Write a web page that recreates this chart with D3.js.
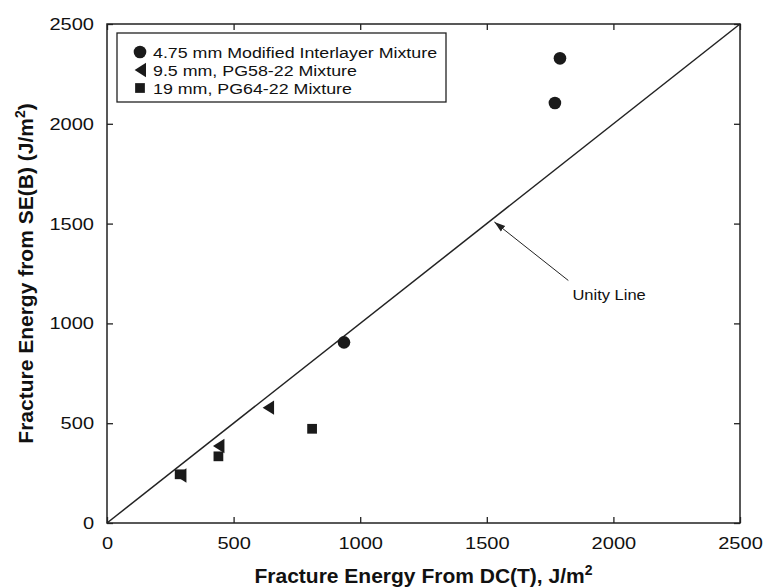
<!DOCTYPE html>
<html>
<head>
<meta charset="utf-8">
<script src="https://cdn.jsdelivr.net/npm/d3@7"></script>
<style>
body { margin: 0; background: #fff; }
text { font-family: "Liberation Sans", Arial, sans-serif; fill: #111; }
</style>
</head>
<body>
<div id="chart"></div>
<script>
var w = 764, h = 587;
var margin = {top: 24, right: 24, bottom: 64, left: 107},
    width = w - margin.left - margin.right,
    height = h - margin.top - margin.bottom;
var stretch = 1.18; // tick and legend text is a bit wider in the picture

// data
var seriesNames = ["4.75 mm Modified Interlayer Mixture", "9.5 mm, PG58-22 Mixture", "19 mm, PG64-22 Mixture"];
var circleX = [936, 1769, 1789];
var circleY = [905, 2104, 2328];
var triX = [290, 440, 636];
var triY = [238, 386, 578];
var sqX = [287, 440, 810];
var sqY = [244, 334, 472];
var ticks = [0, 500, 1000, 1500, 2000, 2500];
var unity = [0, 2500];

var svg = d3.select("#chart").append("svg")
    .attr("width", w).attr("height", h)
    .append("g")
    .attr("transform", "translate(" + margin.left + "," + margin.top + ")");

var x = d3.scaleLinear().domain([0, 2500]).range([0, width]);
var y = d3.scaleLinear().domain([0, 2500]).range([height, 0]);

// axes with inward ticks
function styleAxis(g) {
    g.select(".domain").remove();
    g.selectAll(".tick line").attr("stroke", "#222").attr("stroke-width", 1.3);
    g.selectAll(".tick text").style("font-size", "17px").attr("fill", "#111");
}
svg.append("g").attr("transform", "translate(0," + height + ")")
    .call(d3.axisBottom(x).tickValues(ticks).tickFormat(d3.format("d")).tickSizeInner(-6).tickSizeOuter(0).tickPadding(14))
    .call(styleAxis)
    .selectAll(".tick text").attr("transform", "scale(" + stretch + ",1)");
svg.append("g")
    .call(d3.axisLeft(y).tickValues(ticks).tickFormat(d3.format("d")).tickSizeInner(-6).tickSizeOuter(0).tickPadding(11))
    .call(styleAxis)
    .selectAll(".tick text").attr("transform", "scale(" + stretch + ",1)");
svg.append("g")
    .call(d3.axisTop(x).tickValues(ticks).tickSizeInner(-6).tickSizeOuter(0).tickFormat(""))
    .call(styleAxis);
svg.append("g").attr("transform", "translate(" + width + ",0)")
    .call(d3.axisRight(y).tickValues(ticks).tickSizeInner(-6).tickSizeOuter(0).tickFormat(""))
    .call(styleAxis);

svg.append("rect")
    .attr("width", width).attr("height", height)
    .attr("fill", "none").attr("stroke", "#222").attr("stroke-width", 1.5);

// unity line
svg.append("line")
    .attr("x1", x(unity[0])).attr("y1", y(unity[0]))
    .attr("x2", x(unity[1])).attr("y2", y(unity[1]))
    .attr("stroke", "#222").attr("stroke-width", 1.5);

// annotation arrow
svg.append("defs").append("marker")
    .attr("id", "arr").attr("viewBox", "0 0 10 10")
    .attr("refX", 10).attr("refY", 5)
    .attr("markerWidth", 11).attr("markerHeight", 11)
    .attr("markerUnits", "userSpaceOnUse")
    .attr("orient", "auto")
    .append("path").attr("d", "M0,1.8L10,5L0,8.2Z").attr("fill", "#222");

svg.append("line")
    .attr("x1", x(1822)).attr("y1", y(1215))
    .attr("x2", x(1530)).attr("y2", y(1508))
    .attr("stroke", "#222").attr("stroke-width", 1)
    .attr("marker-end", "url(#arr)");
svg.append("text")
    .attr("transform", "translate(" + x(1838) + "," + y(1115) + ") scale(" + stretch + ",1)")
    .style("font-size", "14px")
    .text("Unity Line");

// points
var sym = {
    circle: d3.symbol().type(d3.symbolCircle).size(125),
    square: d3.symbol().type(d3.symbolSquare).size(95)
};
function tri(s) { return "M" + (-s * 0.45) + ",0L" + (s * 0.5) + "," + (-s * 0.6) + "L" + (s * 0.5) + "," + (s * 0.6) + "Z"; }

svg.selectAll(".c").data(circleX).enter().append("path")
    .attr("d", sym.circle)
    .attr("transform", function(d, i) { return "translate(" + x(d) + "," + y(circleY[i]) + ")"; })
    .attr("fill", "#1a1a1a");
svg.selectAll(".t").data(triX).enter().append("path")
    .attr("d", tri(12))
    .attr("transform", function(d, i) { return "translate(" + x(d) + "," + y(triY[i]) + ")"; })
    .attr("fill", "#1a1a1a");
svg.selectAll(".s").data(sqX).enter().append("path")
    .attr("d", sym.square)
    .attr("transform", function(d, i) { return "translate(" + x(d) + "," + y(sqY[i]) + ")"; })
    .attr("fill", "#1a1a1a");

// legend
var lg = svg.append("g").attr("transform", "translate(10,9)");
lg.append("rect").attr("width", 329).attr("height", 69)
    .attr("fill", "#fff").attr("stroke", "#222").attr("stroke-width", 1.3);
var markers = [sym.circle, tri(12), sym.square];
seriesNames.forEach(function(n, i) {
    var row = lg.append("g").attr("transform", "translate(0," + (19 + i * 18) + ")");
    row.append("path").attr("d", markers[i])
        .attr("transform", "translate(23,0)").attr("fill", "#1a1a1a");
    row.append("text").attr("transform", "translate(36,5.5) scale(1.15,1)")
        .style("font-size", "15.5px").text(n);
});

// axis titles
var xt = svg.append("text")
    .attr("x", width / 2).attr("y", height + 60)
    .attr("text-anchor", "middle")
    .style("font-size", "21px").style("font-weight", "bold");
xt.append("tspan").text("Fracture Energy From DC(T), J/m");
xt.append("tspan").attr("dy", -8).style("font-size", "14px").text("2");

var yt = svg.append("text")
    .attr("transform", "translate(-74," + (height / 2) + ") rotate(-90)")
    .attr("text-anchor", "middle")
    .style("font-size", "21px").style("font-weight", "bold");
yt.append("tspan").text("Fracture Energy from SE(B) (J/m");
yt.append("tspan").attr("dy", -8).style("font-size", "14px").text("2");
yt.append("tspan").attr("dy", 8).text(")");
</script>
</body>
</html>
